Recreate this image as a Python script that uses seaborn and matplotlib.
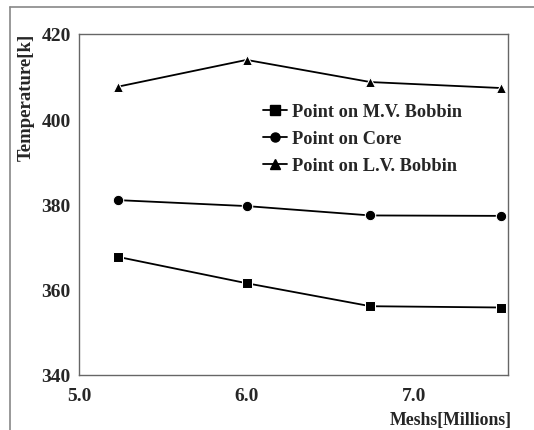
import matplotlib
matplotlib.use("Agg")
import matplotlib.pyplot as plt
from matplotlib.lines import Line2D
import seaborn as sns
import pandas as pd

# values
meshes = [5.23, 6.0, 6.74, 7.52]
mv_bobbin = [367.7, 361.5, 356.1, 355.8]
core = [381.0, 379.6, 377.4, 377.3]
lv_bobbin = [407.6, 413.9, 408.7, 407.3]
series_names = ["Point on M.V. Bobbin", "Point on Core", "Point on L.V. Bobbin"]
x_ticks = [5.0, 6.0, 7.0]
y_ticks = [340, 360, 380, 400, 420]

df = pd.DataFrame({
    "Meshs": meshes * 3,
    "Temperature": mv_bobbin + core + lv_bobbin,
    "Series": [n for n in series_names for _ in meshes],
})

sns.set_style("white")
plt.rcParams["font.family"] = ["Liberation Serif", "DejaVu Serif"]
plt.rcParams["font.weight"] = "bold"

fig = plt.figure(figsize=(5.34, 4.31), dpi=100)
ax = fig.add_axes([0.148, 0.128, 0.803, 0.791])

sns.lineplot(data=df, x="Meshs", y="Temperature", hue="Series", style="Series",
             markers={series_names[0]: "s", series_names[1]: "o", series_names[2]: "^"},
             dashes=False, palette=["black"] * 3, markersize=7.5, linewidth=1.3,
             ax=ax, legend=False)

ax.set_xlim(5.0, 7.56)
ax.set_ylim(340, 420)
ax.set_xticks(x_ticks)
ax.set_xticklabels([f"{t:.1f}" for t in x_ticks], fontsize=14, fontweight="bold")
ax.set_yticks(y_ticks)
ax.set_yticklabels([str(t) for t in y_ticks], fontsize=14, fontweight="bold")
ax.tick_params(axis="x", length=0, pad=9)
ax.tick_params(axis="y", length=0, pad=6)
ax.set_xlabel("")
ax.set_ylabel("")
for s in ax.spines.values():
    s.set_color("#666666")
    s.set_linewidth(1.0)

fig.text(0.05, 0.922, "Temperature[k]", rotation=90, ha="center", va="top",
         fontsize=13.5, fontweight="bold")
fig.text(0.958, 0.004, "Meshs[Millions]", ha="right", va="bottom",
         fontsize=12.8, fontweight="bold")

handles = [Line2D([], [], color="black", marker=m, markersize=6.5, linewidth=1.3)
           for m in ["s", "o", "^"]]
ax.legend(handles, series_names, loc="upper left", bbox_to_anchor=(0.39, 0.845),
          frameon=False, handlelength=1.3, handletextpad=0.3, labelspacing=0.55,
          prop={"size": 13.2, "weight": "bold"})

# outer frame
fig.add_artist(Line2D([10 / 534, 10 / 534], [0, 1 - 8 / 431], color="#888888", lw=1.2,
                      transform=fig.transFigure))
fig.add_artist(Line2D([10 / 534, 1], [1 - 8 / 431, 1 - 8 / 431], color="#888888", lw=1.2,
                      transform=fig.transFigure))

fig.savefig("out.png", dpi=100)
